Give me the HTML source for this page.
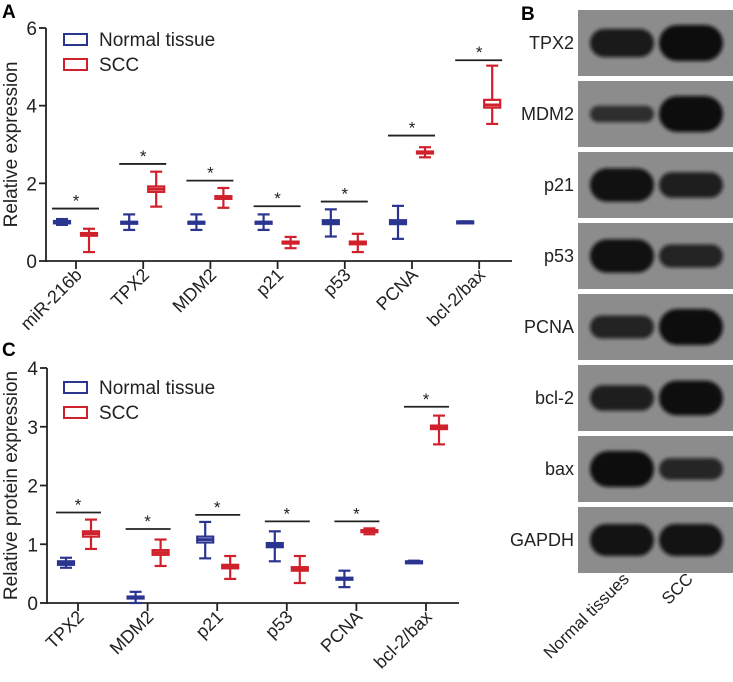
<!DOCTYPE html>
<html><head><meta charset="utf-8"><style>
html,body{margin:0;padding:0;background:#fff;}
svg{display:block;font-family:"Liberation Sans",Arial,sans-serif;}
</style></head><body>
<svg id="fig" width="733" height="682" viewBox="0 0 733 682" xmlns="http://www.w3.org/2000/svg">
<text x="2" y="18" font-size="19" font-weight="bold">A</text>
<text x="2" y="356" font-size="19" font-weight="bold">C</text>
<text x="521" y="20" font-size="19" font-weight="bold">B</text>
</svg>
<script>
const NS='http://www.w3.org/2000/svg';
const svg=document.getElementById('fig');
const BLUE='#2b3590', RED='#d0202b';

// Panel A data: [median, q1, q3, min, max]
const catsA=['miR-216b','TPX2','MDM2','p21','p53','PCNA','bcl-2/bax'];
const normalA=[[1.0,0.97,1.03,0.93,1.08],[1.0,0.99,1.01,0.8,1.2],[1.0,0.99,1.01,0.8,1.2],[1.0,0.99,1.01,0.8,1.2],[1.0,0.95,1.05,0.63,1.33],[1.0,0.95,1.05,0.57,1.42],[1.0,0.98,1.02,0.98,1.02]];
const sccA=[[0.68,0.65,0.72,0.23,0.83],[1.85,1.78,1.92,1.4,2.3],[1.63,1.6,1.67,1.37,1.88],[0.48,0.46,0.5,0.33,0.62],[0.47,0.43,0.5,0.23,0.7],[2.8,2.78,2.82,2.67,2.93],[4.02,3.95,4.15,3.53,5.03]];
const sigA=[1.35,2.5,2.07,1.41,1.53,3.23,5.17];
const ticksA=[0,2,4,6];

// Panel C data
const catsC=['TPX2','MDM2','p21','p53','PCNA','bcl-2/bax'];
const normalC=[[0.68,0.65,0.71,0.6,0.77],[0.1,0.09,0.11,0.0,0.19],[1.08,1.03,1.13,0.76,1.38],[0.98,0.95,1.02,0.71,1.22],[0.42,0.41,0.43,0.27,0.55],[0.69,0.68,0.71,0.68,0.72]];
const sccC=[[1.18,1.13,1.22,0.92,1.42],[0.86,0.82,0.9,0.63,1.08],[0.62,0.59,0.65,0.41,0.8],[0.58,0.55,0.61,0.34,0.8],[1.22,1.21,1.24,1.17,1.27],[2.99,2.96,3.02,2.7,3.19]];
const sigC=[1.54,1.26,1.5,1.39,1.39,3.34];
const ticksC=[0,1,2,3,4];

// Blot data
const proteins=['TPX2','MDM2','p21','p53','PCNA','bcl-2','bax','GAPDH'];
const bandNormal=[0.7,0.25,0.9,0.9,0.5,0.6,1.0,0.85];
const bandSCC=[1.0,1.0,0.6,0.5,1.0,0.95,0.45,0.85];

function el(tag,attrs,parent){const e=document.createElementNS(NS,tag);for(const k in attrs)e.setAttribute(k,attrs[k]);(parent||svg).appendChild(e);return e;}

function panel(cfg){
  const g=el('g',{});
  
  
  const y=v=>cfg.y0-(v/cfg.ymax)*(cfg.y0-cfg.ytop);
  const x=i=>cfg.x0+cfg.first+i*cfg.step;
  const ax=el('line',{x1:cfg.x0,y1:cfg.ytop,x2:cfg.x0,y2:cfg.y0+1,stroke:'#222','stroke-width':1.8},g);
  
  const xa=el('line',{x1:cfg.x0-1,y1:cfg.y0,x2:cfg.xend,y2:cfg.y0,stroke:'#222','stroke-width':1.8},g);
  
  cfg.ticks.forEach(t=>{
    el('line',{x1:cfg.x0-7,x2:cfg.x0,y1:y(t),y2:y(t),stroke:'#222','stroke-width':1.8},g);
    const tl=el('text',{x:cfg.x0-9,y:y(t)+7,'font-size':19,'text-anchor':'end',fill:'#222'},g);
    tl.textContent=t;
    
  });
  const yt=el('text',{transform:`translate(${cfg.titleX},${(cfg.y0+cfg.ytop)/2}) rotate(-90)`,'font-size':19,'text-anchor':'middle',fill:'#222'},g);
  yt.textContent=cfg.title;
  cfg.cats.forEach((c,i)=>{
    const cx=x(i);
    el('line',{x1:cx,x2:cx,y1:cfg.y0,y2:cfg.y0+8,stroke:'#222','stroke-width':1.8},g);
    const lbl=el('text',{transform:`translate(${cx+7},${cfg.y0+15}) rotate(-45)`,'font-size':18,'text-anchor':'end',fill:'#222'},g);
    lbl.textContent=c;
    [[cfg.normal[i],cx-cfg.off1,BLUE,'normal'],[cfg.scc[i],cx+cfg.off2,RED,'scc']].forEach(([d,bx,col,nm])=>{
      const bg=el('g',{},g);
      
      const hw=8,cw=6;
      el('line',{x1:bx,x2:bx,y1:y(d[4]),y2:y(d[3]),stroke:col,'stroke-width':2.2},bg);
      el('line',{x1:bx-cw,x2:bx+cw,y1:y(d[4]),y2:y(d[4]),stroke:col,'stroke-width':2.2},bg);
      el('line',{x1:bx-cw,x2:bx+cw,y1:y(d[3]),y2:y(d[3]),stroke:col,'stroke-width':2.2},bg);
      const h=Math.max(y(d[1])-y(d[2]),2);
      el('rect',{x:bx-hw,y:y(d[2]),width:2*hw,height:h,fill:'#fff',stroke:col,'stroke-width':2.2},bg);
      el('line',{x1:bx-hw,x2:bx+hw,y1:y(d[0]),y2:y(d[0]),stroke:col,'stroke-width':2.8},bg);
    });
    const sy=y(cfg.sig[i]);
    const s1=el('line',{x1:cx-cfg.off1-10,x2:cx+cfg.off2+10,y1:sy,y2:sy,stroke:'#222','stroke-width':1.8},g);
    
    const st=el('text',{x:cx,y:sy-2,'font-size':17,'text-anchor':'middle',fill:'#222'},g);
    st.textContent='*';
  });
  [[BLUE,'Normal tissue',0],[RED,'SCC',25]].forEach(([col,t,dy])=>{
    const lg=el('g',{},g);
    
    el('rect',{x:64,y:cfg.legY+dy-5,width:23,height:11,fill:'#fff',stroke:col,'stroke-width':2},lg);
    const tt=el('text',{x:99,y:cfg.legY+dy+7,'font-size':19,fill:'#222'},lg);tt.textContent=t;
  });
}

panel({name:'panel-a-chart',x0:46,xend:512,y0:261,ytop:28,ymax:6,first:30,step:67.2,off1:14,off2:13,cats:catsA,normal:normalA,scc:sccA,sig:sigA,ticks:ticksA,title:'Relative expression',titleX:17,legY:39});
panel({name:'panel-c-chart',x0:47,xend:459,y0:603,ytop:368,ymax:4,first:31,step:69.6,off1:12,off2:13,cats:catsC,normal:normalC,scc:sccC,sig:sigC,ticks:ticksC,title:'Relative protein expression',titleX:17,legY:387});

// Western blot panel B
const gb=el('g',{});


const defs=el('defs',{});
const flt=el('filter',{id:'blur',x:'-20%',y:'-50%',width:'140%',height:'200%'},defs);
el('feGaussianBlur',{stdDeviation:1.8},flt);
proteins.forEach((p,i)=>{
  const top=10+i*71, h=66, cy=top+h/2;
  const r=el('rect',{x:578,y:top,width:155,height:h,fill:'#8c8c8c'},gb);
  
  [[bandNormal[i],622],[bandSCC[i],691]].forEach(([v,bx])=>{
    const bh=10+v*26;
    el('rect',{x:bx-32,y:cy-bh/2,width:64,height:bh,rx:bh/2,fill:'#111',opacity:0.65+0.35*v,filter:'url(#blur)'},gb);
  });
  const t=el('text',{x:574,y:cy+6,'font-size':18,'text-anchor':'end',fill:'#222'},gb);
  t.textContent=p;
});
const l1=el('text',{transform:'translate(630,580) rotate(-45)','font-size':17,'text-anchor':'end',fill:'#222'},gb);
l1.textContent='Normal tissues';
const l2=el('text',{transform:'translate(694,580) rotate(-45)','font-size':17,'text-anchor':'end',fill:'#222'},gb);
l2.textContent='SCC';
</script>
</body></html>
